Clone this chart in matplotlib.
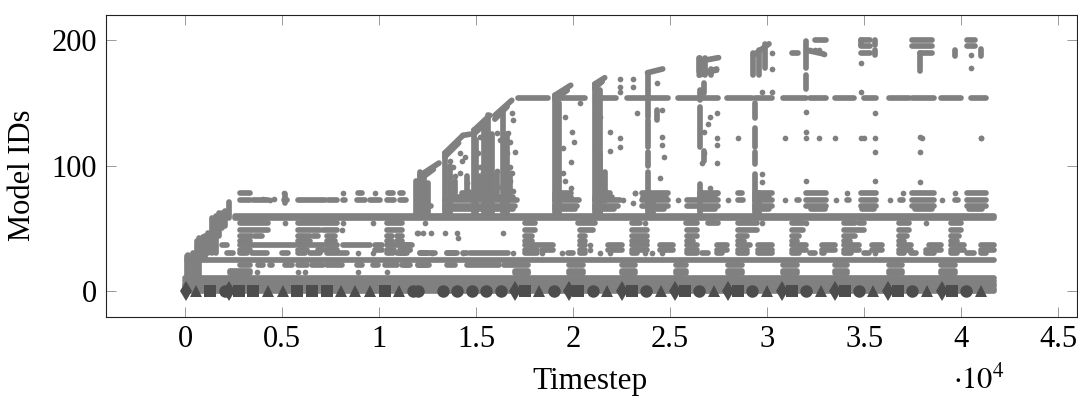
import numpy as np
import matplotlib
matplotlib.use("Agg")
import matplotlib.pyplot as plt

plt.rcParams['font.family'] = ['Liberation Serif', 'DejaVu Serif']
plt.rcParams['mathtext.fontset'] = 'stix'

END = 41700
GRAY = '#808080'
DARK = '#4d4d4d'

# model ids that are busy the whole run
full_ids = [0, 2, 4, 6, 8, 10, 24.5, 58.5, 60]
full_start = [0, 0, 0, 0, 0, 0, 100, 2600, 2600]

# busy stretches per model id (from, to) in timesteps
row_14 = [(2320, 3350), (17510, 17660), (19780, 20500), (22510, 23180), (25290, 25800), (28000, 28690),
          (30800, 31520), (33480, 34140), (36260, 36980), (38990, 39710), (17000, 17660)]
row_16 = [(2320, 3350), (17000, 17660), (19780, 20500), (22510, 23180), (25290, 25800), (28000, 28690),
          (30800, 31520), (33480, 34140), (36260, 36980), (38990, 39710)]
row_21 = [(2830, 3350), (3760, 4020), (4380, 4480), (5150, 5510), (5820, 6280), (6540, 7110), (7310, 8090),
          (8860, 9120), (9680, 9940), (10300, 10920), (11180, 11480), (12000, 12460), (13490, 13910),
          (14520, 16170), (16430, 17660), (19780, 20500), (22510, 23180), (25290, 25800), (28000, 28690),
          (30800, 31520), (33480, 34140), (36260, 36980), (38990, 39710), (11330, 11590), (12000, 12600)]
row_30 = [(2160, 2470), (2830, 3190), (3450, 4220), (5000, 5300), (5820, 6180), (6440, 6950), (7310, 8340), (8910, 8910),
          (9680, 9680), (10400, 10710), (10920, 11430), (12100, 12880), (13490, 14010), (14320, 14520),
          (11070, 11330), (12100, 12460), (12720, 12720), (13490, 13910), (14320, 14320), (14680, 16630),
          (16890, 16890), (17510, 18130), (18390, 18390), (19420, 19420), (19720, 19980), (20340, 20600),
          (21370, 21370), (21890, 21890), (23020, 23280), (23690, 23690), (24050, 24050), (24570, 24570),
          (25850, 26370), (26630, 26930), (27400, 27660), (28480, 28990), (29510, 30280), (31310, 31670),
          (32190, 32450), (32810, 32960), (33990, 34350), (35020, 35280), (35540, 35540), (36820, 37080),
          (37440, 37700), (38210, 38630), (39500, 39810), (40320, 40690), (41050, 41300)]
row_33 = [(2830, 3350), (5820, 6280), (6850, 7110), (7310, 7830), (9790, 10150), (10400, 10760), (11180, 11590),
          (11070, 11590), (17510, 18130), (18390, 18950), (20340, 20600), (20860, 20860), (21780, 22510),
          (23020, 23800), (24460, 25130), (25850, 26370), (27400, 27910), (28480, 28990), (29510, 30280),
          (31310, 32030), (32810, 33480), (33990, 34760), (35430, 35950), (36820, 37440), (38210, 38990),
          (39500, 40170), (41050, 41720)]
row_36 = [(1910, 2160), (2830, 5670), (5820, 7830), (8140, 9530), (9790, 10150), (10400, 11690),
          (11070, 11590), (17510, 18950), (20340, 20600), (20860, 20860), (21780, 22510), (23020, 23800),
          (24460, 25130), (25850, 26370), (27400, 27960), (28480, 29100), (29510, 30280), (31310, 32030),
          (32810, 33480), (33990, 34760), (35430, 35950), (36820, 37440), (38370, 38990), (39500, 40170),
          (41050, 41720)]
row_40 = [(2830, 3350), (5820, 6440), (7310, 7730), (10400, 10660), (10920, 11180), (17510, 17870),
          (20340, 20600), (23020, 23800), (25850, 26200), (28480, 28800), (31310, 31520), (33990, 34250),
          (36820, 37080), (39500, 39810)]
row_44 = [(2830, 3450), (3610, 3970), (5820, 6440), (6590, 6850), (7310, 7730), (10400, 10660), (10920, 11180),
          (17510, 17870), (20340, 20600), (23020, 23800), (25850, 26370), (28480, 28990), (31310, 31670),
          (33990, 34510), (36820, 37230), (39500, 39910)]
row_49 = [(2830, 4270), (5820, 6950), (7110, 7830), (8090, 8090), (10400, 11180), (17510, 18030), (20340, 21010),
          (23020, 23800), (25850, 26370), (28480, 29460), (31310, 31830), (33990, 35020), (36820, 37340),
          (39500, 40020)]
row_54 = [(2830, 4270), (5150, 5150), (5820, 7830), (8140, 8140), (9680, 9680), (10400, 11180), (12360, 12360),
          (17510, 18030), (20240, 21120), (23020, 23430), (23690, 23690), (25800, 26370), (26930, 27450),
          (28480, 29460), (29720, 29720), (31310, 31830), (32030, 32030), (33990, 34510), (34760, 35020),
          (36820, 37340), (38210, 38210), (39500, 40020)]
row_65 = [(13390, 16900), (19060, 20100), (21120, 22100), (23840, 24700), (26520, 27300), (29360, 30100),
          (32250, 33000), (34900, 35500), (37600, 38500), (40400, 41100)]
row_68 = [(12000, 12700), (13390, 17000), (19060, 20200), (21120, 22300), (23530, 24900), (25850, 26370), (26520, 27450),
          (29360, 30280), (32030, 33060), (34860, 35640), (37490, 38630), (40320, 41300)]
row_72 = [(2830, 3350), (3500, 4270), (4380, 4380), (5100, 5250), (5820, 6440), (6540, 7210), (7360, 7830), (8140, 8240),
          (8860, 9270), (9530, 10040), (10400, 10760), (11070, 11380), (13390, 17100), (19060, 20300),
          (21120, 22400), (23530, 24900), (25390, 25390), (25850, 26520), (26520, 27450), (28000, 28000),
          (28480, 28750), (29360, 30280), (30900, 30900), (31520, 31670), (32030, 33060), (33570, 33570),
          (34140, 34200), (34860, 35640), (36360, 36360), (36870, 37000), (37490, 38630), (39040, 39040),
          (39710, 39850), (40320, 41300)]
row_75 = [(13800, 16900), (19060, 19900), (21120, 22000), (23600, 24800), (26520, 27300), (29360, 30100)]
row_78 = [(2830, 3350), (5100, 5100), (8140, 8140), (8910, 9120), (9790, 9790), (10450, 10710), (11070, 11230),
          (14300, 15600), (19060, 19900), (21630, 21890), (23180, 23180), (23530, 24900), (26520, 27450),
          (28480, 28690), (29360, 30280), (32030, 33060), (34140, 34140), (34860, 35640), (37000, 37000),
          (37490, 38630), (39710, 39710), (40320, 41300)]
row_154 = [(17160, 18700), (19060, 20600), (21270, 22200), (22760, 24900), (25390, 27450), (27960, 29200),
           (29360, 30280), (30800, 32030), (32190, 33060), (33480, 34480), (35020, 35640), (36260, 37340),
           (37490, 38630), (38990, 40020), (40530, 41300)]
row_190 = [(31310, 31600), (34860, 35300), (37900, 38500)]
row_195 = [(34860, 35300), (37490, 38500), (40320, 40700)]
row_200 = [(32450, 33060), (34860, 35300), (37490, 38500), (40320, 40700)]

rows = [(14, row_14), (16, row_16), (21, row_21), (30.5, row_30), (33, row_33), (36.5, row_36), (40, row_40),
        (44, row_44), (49, row_49), (54, row_54), (65, row_65), (68, row_68), (72.5, row_72), (75, row_75),
        (78, row_78), (154, row_154), (190, row_190), (195, row_195), (200, row_200)]

# model ids seen in a burst: timestep, lowest id, highest id
col_x = [155, 410, 720, 930, 1390, 1600, 1910, 2270, 100, 5150, 11900, 12100, 12310, 13390, 14880, 15600, 16380,
         19060, 21120, 21370, 21630, 23840, 23840, 23840, 23840, 26520, 26520, 26520, 26520, 26730, 26730,
         29360, 29360, 29360, 29360, 29300, 29600, 29900, 32030, 32030, 35540, 35540, 37900, 39710, 41050,
         26500, 26800, 27100, 34860, 13900, 14520, 15190, 16070, 16740, 24350,
         620, 1030, 1200, 1750, 2050, 12500, 13650, 15000, 15400, 15800, 16580, 19300, 21370, 24100, 29600]
col_lo = [10, 12, 12, 26, 30, 30, 50, 58, 12, 70, 62, 62, 62, 62, 62, 62, 62,
          62, 62, 62, 72, 62, 100, 115, 139, 62, 115, 152, 175, 158, 104,
          62, 101, 115, 138, 172, 172, 178, 178, 161, 196, 188, 175, 187, 187,
          175, 172, 172, 196, 78, 78, 78, 78, 78, 136,
          12, 26, 30, 44, 52, 62, 62, 62, 62, 62, 62, 62, 62, 62, 62]
col_hi = [29, 30, 42, 43, 58, 60, 62, 71, 28, 77, 88, 95, 90, 110, 128, 140, 144,
          156, 165, 110, 95, 95, 111, 136, 174, 85, 147, 160, 186, 166, 112,
          93, 111, 130, 150, 190, 192, 197, 199, 172, 200, 192, 190, 192, 193,
          186, 186, 177, 200, 88, 92, 92, 94, 94, 144,
          40, 44, 46, 62, 64, 86, 100, 120, 132, 125, 125, 150, 160, 76, 78]

# diagonal edges at the top of the bursts
ramp_x0 = [12100, 13390, 14320, 14880, 15970, 19060, 21120, 23840, 26500, 26800, 29300, 32030, 26500,
           12100, 13390, 14880, 15970, 19060, 21120]
ramp_x1 = [13090, 14320, 14680, 15710, 16840, 19880, 21630, 24620, 27400, 27500, 30100, 32900, 27400,
           12800, 14100, 15500, 16600, 19700, 21500]
ramp_y0 = [92, 110, 124, 128, 140, 156, 165, 174, 172, 184, 188, 192, 174,
           89, 107, 125, 137, 153, 162]
ramp_y1 = [102, 124, 125, 140, 152, 164, 170, 177, 177, 186, 197, 189, 176,
           97, 118, 134, 147, 160, 167]

# single points
dot_x = [13650, 13800, 13650, 13910, 14160, 14270, 14160, 14420, 14520, 14570, 15090, 15190, 15190, 15350, 15710,
         16070, 16220, 16070, 16120, 16630, 16740, 16580, 17000, 16740, 16840, 16740, 16890, 16070, 16840, 16890,
         19570, 19950, 20050, 19500, 19900, 19500, 19600, 19900, 20340, 21370, 21890, 22400, 21890, 22400, 22400,
         22400, 22400, 22560, 23070, 23180, 23070, 23070, 23280, 24600, 24350, 24600, 24600, 24700, 24500, 27040,
         27400, 26930, 26730, 27400, 27400, 26730, 26630, 27040, 27400, 27400, 30230, 30230, 30230, 29720, 29720,
         29720, 32030, 32030, 32450, 32190, 32700, 32910, 34860, 34860, 35540, 35540, 37900, 37900, 37900, 40530,
         40530, 41050, 41050, 32030, 32700, 32030, 35020, 35540, 38000, 33480, 35540, 28480, 30900, 34860,
         5820, 6180, 10400, 12000, 12700, 14000, 11950, 12260, 13390, 16380, 14060, 8890, 4000, 4600, 3700]
dot_y = [104, 99, 91, 92, 110, 104, 94, 107, 86, 80, 110, 123, 99, 95, 94,
         126, 120, 96, 83, 126, 119, 110, 111, 99, 94, 88, 80, 140, 142, 136,
         139, 127, 119, 114, 103, 94, 88, 82, 150, 139, 127, 122, 112, 115, 169,
         163, 159, 72.5, 70, 78, 169, 163, 142, 144, 166, 123, 116, 107, 90, 139,
         142, 133, 127, 116, 122, 110, 102, 82, 78, 102, 190, 177, 159, 159, 93,
         87, 143, 127, 192, 192, 192, 189, 182, 159, 111, 122, 123, 111, 87, 188,
         178, 122, 122, 122, 122, 88, 122, 88, 122, 122, 142, 122, 122, 122,
         15, 15, 15, 46, 46, 46, 46, 46, 46, 46, 42, 15, 73, 73, 15]

# model ids below the busy band, markers sit on id 0
diamond_t = [50, 2270, 17010, 19800, 22530, 25260, 27990, 30780, 33510, 36240, 39020]
triangle_t = [570, 4280, 5050, 8040, 8760, 9540, 11030, 18250, 21750, 24540, 27270, 30000, 32790, 35470, 38250, 41030]
square_t = [1290, 2780, 3510, 5770, 6550, 7320, 10310, 17530, 20260, 23040, 25780, 28510, 31290, 34020, 36750, 39540]
circle_t = [2060, 11750, 12010, 13300, 14020, 14790, 15520, 16290, 19020, 21030, 23760, 26500, 29230, 32010, 34740,
            37480, 40260]

xticks = [0, 0.5, 1, 1.5, 2, 2.5, 3, 3.5, 4, 4.5]
xticklabels = ['0', '0.5', '1', '1.5', '2', '2.5', '3', '3.5', '4', '4.5']
yticks = [0, 100, 200]

W, H = 1078, 396
fig = plt.figure(figsize=(W / 100, H / 100), dpi=100)
ax = fig.add_axes([105.5 / W, 1 - 317 / H, 971 / W, 302 / H])

LW = 4.1


def run(x0, x1, y0, y1):
    ax.plot([x0 / 1e4, x1 / 1e4], [y0, y1], color=GRAY, lw=LW, solid_capstyle='round', zorder=2)


for y, start in zip(full_ids, full_start):
    run(start, END, y, y)
for y, spans in rows:
    for a, b in spans:
        if a == b:
            ax.scatter(a / 1e4, y, s=LW ** 2, color=GRAY, linewidths=0, zorder=2)
        else:
            run(a, b, y, y)
for x, lo, hi in zip(col_x, col_lo, col_hi):
    run(x, x, lo, hi)
for x0, x1, y0, y1 in zip(ramp_x0, ramp_x1, ramp_y0, ramp_y1):
    run(x0, x1, y0, y1)
ax.scatter(np.array(dot_x) / 1e4, dot_y, s=LW ** 2, color=GRAY, linewidths=0, zorder=2)

ax.plot(np.array(diamond_t) / 1e4, np.zeros(len(diamond_t)), 'd', color=DARK, ms=10.5, mew=0, zorder=3)
ax.plot(np.array(triangle_t) / 1e4, np.zeros(len(triangle_t)), '^', color=DARK, ms=8, mew=0, zorder=3)
ax.plot(np.array(square_t) / 1e4, np.zeros(len(square_t)), 's', color=DARK, ms=8, mew=0, zorder=3)
ax.plot(np.array(circle_t) / 1e4, np.zeros(len(circle_t)), 'o', color=DARK, ms=9, mew=0, zorder=3)

ax.set_xlim(-0.41, 4.595)
ax.set_ylim(-20.7, 220)
ax.set_xticks(xticks)
ax.set_xticklabels(xticklabels)
ax.set_yticks(yticks)
ax.tick_params(direction='in', length=7.5, width=0.7, color='#999999', top=True, right=True,
               labelsize=22, pad=6)
for s in ax.spines.values():
    s.set_linewidth(0.8)
    s.set_color('#222222')

fig.text(590 / W, 1 - 389 / H, 'Timestep', fontsize=22.5, ha='center', va='baseline')
fig.text(23 / W, 1 - 175 / H, 'Model IDs', fontsize=22, rotation=90, ha='center', va='center')
fig.text(979 / W, 1 - 396 / H, r'$\cdot 10^4$', fontsize=22, ha='center', va='bottom')

fig.savefig('out.png', dpi=100)
